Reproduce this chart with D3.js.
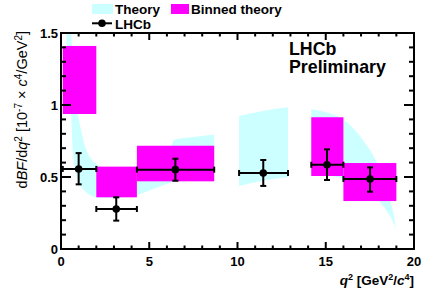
<!DOCTYPE html>
<html>
<head>
<meta charset="utf-8">
<script src="https://cdn.jsdelivr.net/npm/d3@7"></script>
<style>
html,body{margin:0;padding:0;background:#fff;}
svg{display:block;}
text{font-family:"Liberation Sans",Arial,Helvetica,sans-serif;}
</style>
</head>
<body>
<svg id="c" width="436" height="297"></svg>
<script>
// ---- data ----
const xTicks = [0, 5, 10, 15, 20];
const yTicks = [0, 0.5, 1, 1.5];
const yTickLabels = ["0", "0.5", "1", "1.5"];

// LHCb measurement
const binLo = [0.1, 2.0, 4.3, 10.09, 14.18, 16.0];
const binHi = [2.0, 4.3, 8.68, 12.86, 16.0, 19.0];
const dataX = [1.0, 3.13, 6.48, 11.46, 15.07, 17.51];
const dataY = [0.556, 0.278, 0.551, 0.528, 0.585, 0.486];
const dataErrUp = [0.11, 0.081, 0.076, 0.09, 0.107, 0.081];
const dataErrDn = [0.107, 0.081, 0.077, 0.09, 0.106, 0.088];

// Binned theory
const binnedLo = [0.1, 2.0, 4.3, 14.18, 16.0];
const binnedHi = [2.0, 4.3, 8.68, 16.0, 19.0];
const binnedMin = [0.9375, 0.359, 0.47, 0.507, 0.333];
const binnedMax = [1.41, 0.572, 0.717, 0.915, 0.597];

// Theory band (three segments)
const theoryQ2a   = [0.2, 0.3, 0.45, 0.58, 0.6, 0.7, 0.8, 0.9, 1.08, 1.3, 1.63, 2.0, 3.0, 4.3, 5.3, 6.2, 6.4, 7.5, 8.68];
const theoryLowA  = [2.0, 1.5, 1.15, 0.95, 0.86, 0.64, 0.55, 0.5, 0.444, 0.41, 0.375, 0.36, 0.355, 0.375, 0.42, 0.46, 0.467, 0.49, 0.5];
const theoryHighA = [3.0, 2.4, 1.8, 1.5, 1.45, 1.25, 1.08, 0.98, 0.86, 0.74, 0.64, 0.59, 0.55, 0.57, 0.63, 0.69, 0.757, 0.777, 0.796];
const theoryQ2b   = [10.09, 11.5, 12.86];
const theoryLowB  = [0.4375, 0.475, 0.498];
const theoryHighB = [0.924, 0.96, 0.984];
const theoryQ2c   = [14.18, 15.0, 16.0, 16.7, 17.32, 17.9, 18.3, 18.64, 18.88, 18.98];
const theoryLowC  = [0.52, 0.51, 0.49, 0.45, 0.41, 0.35, 0.29, 0.23, 0.17, 0.13];
const theoryHighC = [0.97, 0.95, 0.9, 0.82, 0.72, 0.6, 0.48, 0.34, 0.22, 0.13];

// ---- layout ----
const svg = d3.select("#c");
const L = 61, R = 414, T = 33, B = 249;
const x = d3.scaleLinear().domain([0, 20]).range([L, R]);
const y = d3.scaleLinear().domain([0, 1.5]).range([B, T]);
const CYAN = "#ccffff", MAG = "#ff00ff";

svg.append("defs").append("clipPath").attr("id", "pc")
  .append("rect").attr("x", L).attr("y", T).attr("width", R - L).attr("height", B - T);

const plot = svg.append("g").attr("clip-path", "url(#pc)");

// theory band
const area = d3.area().x(d => x(d[0])).y0(d => y(d[1])).y1(d => y(d[2])).curve(d3.curveMonotoneX);
[[theoryQ2a, theoryLowA, theoryHighA], [theoryQ2b, theoryLowB, theoryHighB], [theoryQ2c, theoryLowC, theoryHighC]]
  .forEach(([q, lo, hi]) => {
    plot.append("path").datum(q.map((v, i) => [v, lo[i], hi[i]]))
      .attr("d", area).attr("fill", CYAN).attr("stroke", "none");
  });

// binned theory
plot.selectAll("rect.bt").data(binnedLo.map((v, i) => i)).enter().append("rect")
  .attr("x", i => x(binnedLo[i])).attr("width", i => x(binnedHi[i]) - x(binnedLo[i]))
  .attr("y", i => y(binnedMax[i])).attr("height", i => y(binnedMin[i]) - y(binnedMax[i]))
  .attr("fill", MAG);

// data points
const pts = svg.append("g").attr("stroke", "#000").attr("stroke-width", 2);
const cap = 3;
dataX.forEach((v, i) => {
  const cx = x(v), cy = y(dataY[i]);
  const x0 = x(binLo[i]), x1 = x(binHi[i]);
  const yU = y(dataY[i] + dataErrUp[i]), yD = y(dataY[i] - dataErrDn[i]);
  pts.append("line").attr("x1", x0).attr("x2", x1).attr("y1", cy).attr("y2", cy);
  pts.append("line").attr("x1", cx).attr("x2", cx).attr("y1", yU).attr("y2", yD);
  pts.append("line").attr("x1", x0).attr("x2", x0).attr("y1", cy - cap).attr("y2", cy + cap);
  pts.append("line").attr("x1", x1).attr("x2", x1).attr("y1", cy - cap).attr("y2", cy + cap);
  pts.append("line").attr("x1", cx - cap).attr("x2", cx + cap).attr("y1", yU).attr("y2", yU);
  pts.append("line").attr("x1", cx - cap).attr("x2", cx + cap).attr("y1", yD).attr("y2", yD);
  pts.append("circle").attr("cx", cx).attr("cy", cy).attr("r", 3.8).attr("fill", "#000").attr("stroke", "none");
});

// frame & ticks
const fr = svg.append("g").attr("stroke", "#000").attr("stroke-width", 2).attr("fill", "none");
fr.append("rect").attr("x", L).attr("y", T).attr("width", R - L).attr("height", B - T);
for (let v = 0; v <= 20; v += 1) {
  const major = v % 5 === 0;
  const len = major ? 7 : 3.5;
  fr.append("line").attr("x1", x(v)).attr("x2", x(v)).attr("y1", B).attr("y2", B - len);
  fr.append("line").attr("x1", x(v)).attr("x2", x(v)).attr("y1", T).attr("y2", T + len);
}
for (let k = 0; k <= 15; k++) {
  const v = k / 10;
  const major = k % 5 === 0;
  const len = major ? 10 : 5;
  fr.append("line").attr("x1", L).attr("x2", L + len).attr("y1", y(v)).attr("y2", y(v));
  fr.append("line").attr("x1", R).attr("x2", R - len).attr("y1", y(v)).attr("y2", y(v));
}

// tick labels
svg.selectAll("text.xt").data(xTicks).enter().append("text")
  .attr("x", d => x(d)).attr("y", 266).attr("text-anchor", "middle")
  .attr("font-size", 13).attr("font-weight", "bold").text(d => d);
svg.selectAll("text.yt").data(yTicks).enter().append("text")
  .attr("x", 58).attr("y", d => y(d) + 4.7).attr("text-anchor", "end")
  .attr("font-size", 13).attr("font-weight", "bold").text((d, i) => yTickLabels[i]);

// axis titles
const xt = svg.append("text").attr("x", 414).attr("y", 285).attr("text-anchor", "end")
  .attr("font-size", 13.5).attr("font-weight", "bold");
xt.append("tspan").attr("font-style", "italic").text("q");
xt.append("tspan").attr("font-size", 9).attr("dy", -5).text("2");
xt.append("tspan").attr("dy", 5).text(" [GeV");
xt.append("tspan").attr("font-size", 9).attr("dy", -5).text("2");
xt.append("tspan").attr("dy", 5).text("/");
xt.append("tspan").attr("font-style", "italic").text("c");
xt.append("tspan").attr("font-size", 9).attr("dy", -5).text("4");
xt.append("tspan").attr("dy", 5).text("]");

const yt = svg.append("text").attr("transform", "translate(27,31) rotate(-90)")
  .attr("text-anchor", "end").attr("font-size", 14.5);
yt.append("tspan").text("d");
yt.append("tspan").attr("font-style", "italic").text("BF");
yt.append("tspan").text("/d");
yt.append("tspan").attr("font-style", "italic").text("q");
yt.append("tspan").attr("font-size", 10).attr("dy", -5).text("2");
yt.append("tspan").attr("dy", 5).text(" [10");
yt.append("tspan").attr("font-size", 10).attr("dy", -5).text("-7");
yt.append("tspan").attr("dy", 5).text(" × ");
yt.append("tspan").attr("font-style", "italic").text("c");
yt.append("tspan").attr("font-size", 10).attr("dy", -5).text("4");
yt.append("tspan").attr("dy", 5).text("/GeV");
yt.append("tspan").attr("font-size", 10).attr("dy", -5).text("2");
yt.append("tspan").attr("dy", 5).text("]");

// LHCb Preliminary
svg.append("text").attr("x", 289).attr("y", 54.5).attr("font-size", 17.8).attr("font-weight", "bold").text("LHCb");
svg.append("text").attr("x", 289).attr("y", 73).attr("font-size", 17.8).attr("font-weight", "bold").text("Preliminary");

// legend
const lg = svg.append("g");
lg.append("rect").attr("x", 92).attr("y", 4).attr("width", 21).attr("height", 10).attr("fill", CYAN);
lg.append("text").attr("x", 115).attr("y", 13.8).attr("font-size", 13.5).attr("font-weight", "bold").text("Theory");
lg.append("rect").attr("x", 171).attr("y", 4).attr("width", 18).attr("height", 10).attr("fill", MAG);
lg.append("text").attr("x", 191).attr("y", 13.8).attr("font-size", 13.5).attr("font-weight", "bold").text("Binned theory");
lg.append("line").attr("x1", 92).attr("x2", 112).attr("y1", 23.3).attr("y2", 23.3).attr("stroke", "#000").attr("stroke-width", 2);
lg.append("circle").attr("cx", 102).attr("cy", 23.3).attr("r", 3.8).attr("fill", "#000");
lg.append("text").attr("x", 115).attr("y", 29).attr("font-size", 13.5).attr("font-weight", "bold").text("LHCb");
</script>
</body>
</html>
